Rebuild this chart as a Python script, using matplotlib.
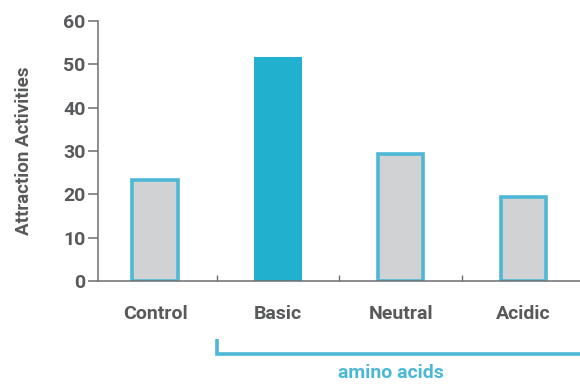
import matplotlib
matplotlib.use("Agg")
from matplotlib import pyplot as plt
from matplotlib import transforms

categories = ["Control", "Basic", "Neutral", "Acidic"]
values = [23.4, 51.7, 29.3, 19.5]
highlight = "Basic"
y_ticks = [0, 10, 20, 30, 40, 50, 60]
group_label = "amino acids"
group_start = "Basic"

text_color = "#58595b"
axis_color = "#6d6e71"
blue = "#22b0cf"
edge_blue = "#4db8d6"
gray = "#d1d2d4"

plt.rcParams["font.family"] = ["Roboto", "DejaVu Sans"]

fig = plt.figure(figsize=(5.8, 3.84), dpi=100)
ax = fig.add_axes([98 / 580, 1 - 281 / 384, 1 - 98 / 580, 260 / 384])

x = list(range(len(categories)))
for xi, cat, v in zip(x, categories, values):
    if cat == highlight:
        ax.bar(xi, v, width=0.39, color=blue, edgecolor=blue, linewidth=0, zorder=2)
    else:
        ax.bar(xi, v, width=0.37, color=gray, edgecolor=edge_blue, linewidth=2.6, zorder=2)

ax.set_xlim(-0.465, 3.46)
ax.set_ylim(0, 60)
ax.set_yticks(y_ticks)
ax.set_xticks(x)
ax.set_xticklabels(categories, fontsize=14, fontweight="bold", color=text_color)
ax.set_xticks([i + 0.5 for i in x[:-1]], minor=True)
ax.tick_params(axis="x", which="major", length=0, pad=17)
ax.tick_params(axis="x", which="minor", direction="in", length=4, width=1, color=axis_color)
ax.tick_params(axis="y", length=7, width=1.1, color=axis_color, labelsize=14,
               labelcolor=text_color, pad=2)
for lab in ax.get_yticklabels():
    lab.set_fontweight("bold")

for s in ["top", "right"]:
    ax.spines[s].set_visible(False)
for s in ["left", "bottom"]:
    ax.spines[s].set_color(axis_color)
    ax.spines[s].set_linewidth(1.1)
    ax.spines[s].set_zorder(3)

ax.set_ylabel("Attraction Activities", fontsize=13.5, fontweight="bold", color=text_color,
              labelpad=22)

# bracket under the amino acid groups
tr = transforms.blended_transform_factory(ax.transData, ax.transAxes)
x0 = categories.index(group_start) - 0.5
x1 = ax.get_xlim()[1]
ax.plot([x0, x0, x1], [-0.222, -0.281, -0.281], color=edge_blue, lw=2.6,
        transform=tr, clip_on=False, solid_capstyle="butt", solid_joinstyle="miter")
ax.text((x0 + x1) / 2 - 0.06, -0.352, group_label, transform=tr, ha="center", va="center",
        fontsize=14, fontweight="bold", color=edge_blue)

fig.savefig("out.png", dpi=100)
